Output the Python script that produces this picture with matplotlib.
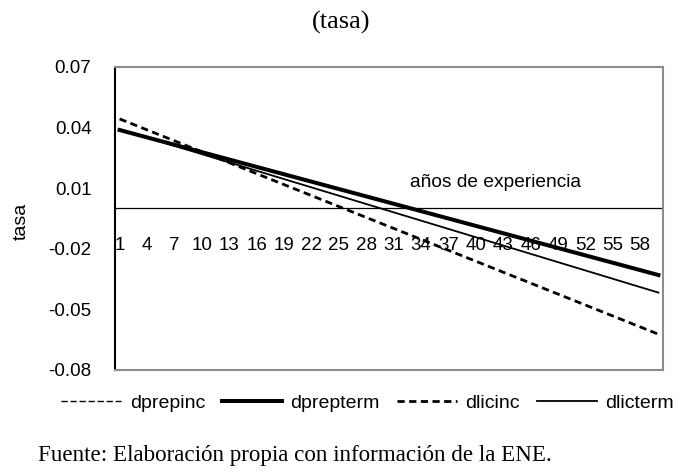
import matplotlib
matplotlib.use('Agg')
import matplotlib.pyplot as plt

# experience years shown on the category axis
tick_years = list(range(1, 60, 3))

# returns at first and last year of experience (straight lines)
ends = [1, 60]
dprepinc = [0.0388, -0.0330]
dprepterm = [0.0388, -0.0330]
dlicinc = [0.0443, -0.0623]
dlicterm = [0.0392, -0.0417]

yticks = [0.07, 0.04, 0.01, -0.02, -0.05, -0.08]

sans = 'Liberation Sans'
serif = 'Liberation Serif'

fig = plt.figure(figsize=(6.85, 4.75), dpi=100)
ax = fig.add_axes([0.1679, 0.2211, 0.8, 0.6379])

ax.plot(ends, dprepinc, color='black', lw=1.0, ls=(0, (4.5, 2)), label='dprepinc')
ax.plot(ends, dprepterm, color='black', lw=2.9, label='dprepterm')
ax.plot(ends, dlicinc, color='black', lw=2.0, ls=(0, (2.6, 1.6)), label='dlicinc')
ax.plot(ends, dlicterm, color='black', lw=1.3, label='dlicterm')

ax.axhline(0, color='black', lw=0.9, zorder=1)

ax.set_xlim(0.5, 60.5)
ax.set_ylim(-0.08, 0.07)
ax.set_yticks(yticks)
ax.set_yticklabels([f'{v:.2f}' for v in yticks], fontfamily=sans, fontsize=13.5)
ax.tick_params(axis='y', length=0, pad=17)
ax.set_xticks([])

for side in ['top', 'right', 'bottom']:
    ax.spines[side].set_color('#8c8c8c')
    ax.spines[side].set_linewidth(1.5)
ax.spines['left'].set_color('black')
ax.spines['left'].set_linewidth(1.5)

# category labels sit just under the zero line
for yr in tick_years:
    ax.text(yr, -0.0185, str(yr), ha='center', va='center',
            fontfamily=sans, fontsize=13.5)

ax.text(42.2, 0.0126, 'años de experiencia', ha='center', va='center',
        fontfamily=sans, fontsize=13.8)

ax.set_ylabel('tasa', fontfamily=sans, fontsize=14)
ax.yaxis.set_label_coords(-0.155, 0.49)

fig.text(0.498, 0.952, '(tasa)', ha='center', va='center',
         fontfamily=serif, fontsize=19)

fig.legend(loc='center', bbox_to_anchor=(0.5365, 0.151), ncol=4, frameon=False,
           prop={'family': sans, 'size': 14}, handlelength=3.1,
           handletextpad=0.45, columnspacing=0.85)

fig.text(0.055, 0.04, 'Fuente: Elaboración propia con información de la ENE.',
         ha='left', va='center', fontfamily=serif, fontsize=16.6)

fig.savefig('out.png', dpi=100)
